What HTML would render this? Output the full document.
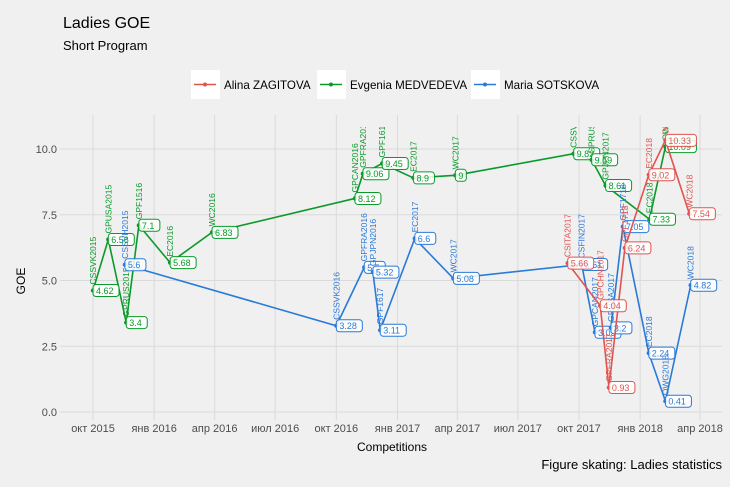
<!DOCTYPE html>
<html><head><meta charset="utf-8"><style>
body{margin:0;background:#f0f0f0;}
svg{display:block;font-family:"Liberation Sans",sans-serif;}
</style></head><body>
<svg id="chart" width="730" height="487" viewBox="0 0 730 487">
<defs><clipPath id="panelclip"><rect x="60" y="127" width="662" height="300"/></clipPath></defs>
<rect width="730" height="487" fill="#f0f0f0"/>
<text x="63" y="28" font-size="16" fill="#000">Ladies GOE</text>
<text x="63" y="50" font-size="13" fill="#000">Short Program</text>
<g>
 <g>
  <rect x="191" y="70" width="29" height="29" fill="#fff"/>
  <line x1="194" y1="84.5" x2="216" y2="84.5" stroke="#e0544f" stroke-width="1.5"/><circle cx="205" cy="84.5" r="2" fill="#e0544f"/>
  <text x="224" y="89" font-size="11.6">Alina ZAGITOVA</text>
 </g>
 <g>
  <rect x="317" y="70" width="29" height="29" fill="#fff"/>
  <line x1="320" y1="84.5" x2="342" y2="84.5" stroke="#0a9a2a" stroke-width="1.5"/><circle cx="331" cy="84.5" r="2" fill="#0a9a2a"/>
  <text x="350" y="89" font-size="11.6">Evgenia MEDVEDEVA</text>
 </g>
 <g>
  <rect x="471" y="70" width="29" height="29" fill="#fff"/>
  <line x1="474" y1="84.5" x2="496" y2="84.5" stroke="#2a7ad8" stroke-width="1.5"/><circle cx="485" cy="84.5" r="2" fill="#2a7ad8"/>
  <text x="504" y="89" font-size="11.6">Maria SOTSKOVA</text>
 </g>
</g>
<g id="grid"></g>
<g id="axes"></g>
<g id="series" clip-path="url(#panelclip)"></g>
<text x="25" y="281" font-size="12" transform="rotate(-90 25 281)" text-anchor="middle">GOE</text>
<text x="392" y="451" font-size="12" text-anchor="middle">Competitions</text>
<text x="722" y="469" font-size="13" text-anchor="end">Figure skating: Ladies statistics</text>
</svg>
<script>
const yTicks = [0, 2.5, 5, 7.5, 10];
const xTickDates = ["2015-10-01","2016-01-01","2016-04-01","2016-07-01","2016-10-01","2017-01-01","2017-04-01","2017-07-01","2017-10-01","2018-01-01","2018-04-01"];
const xTickLabels = ["окт 2015","янв 2016","апр 2016","июл 2016","окт 2016","янв 2017","апр 2017","июл 2017","окт 2017","янв 2018","апр 2018"];

const zagitovaComps = ["CSITA2017","GPCHN2017","GPFRA2017","GPF1718","EC2018","OWG2018","WC2018"];
const zagitovaDates = ["2017-09-14","2017-11-02","2017-11-15","2017-12-09","2018-01-14","2018-02-08","2018-03-16"];
const zagitovaGOE = [5.66,4.04,0.93,6.24,9.02,10.33,7.54];

const medvedevaComps = ["CSSVK2015","GPUSA2015","GPRUS2015","GPF1516","EC2016","WC2016","GPCAN2016","GPFRA2016","GPF1617","EC2017","WC2017","CSSVK2017","GPRUS2017","GPJPN2017","EC2018","OWG2018"];
const medvedevaDates = ["2015-10-01","2015-10-24","2015-11-20","2015-12-09","2016-01-25","2016-03-28","2016-10-29","2016-11-10","2016-12-09","2017-01-25","2017-03-29","2017-09-23","2017-10-20","2017-11-10","2018-01-15","2018-02-08"];
const medvedevaGOE = [4.62,6.56,3.4,7.1,5.68,6.83,8.12,9.06,9.45,8.9,9,9.82,9.59,8.61,7.33,10.09];

const sotskovaComps = ["CSSVH2015","CSSVK2016","GPFRA2016","GPJPN2016","GPF1617","EC2017","WC2017","CSFIN2017","GPCAN2017","GPUSA2017","GPF1718","EC2018","OWG2018","WC2018"];
const sotskovaDates = ["2015-11-18","2016-10-01","2016-11-12","2016-11-25","2016-12-06","2017-01-27","2017-03-26","2017-10-05","2017-10-25","2017-11-18","2017-12-06","2018-01-14","2018-02-08","2018-03-18"];
const sotskovaGOE = [5.6,3.28,5.5,5.32,3.11,6.6,5.08,5.61,3.03,3.2,7.05,2.24,0.41,4.82];

const NS="http://www.w3.org/2000/svg";
const D0=Date.parse("2015-10-01"), D1=Date.parse("2018-04-01");
function xScale(d){return 93+(Date.parse(d)-D0)/(D1-D0)*607;}
function yScale(v){return 412-v*26.3;}
function mk(tag,attrs,parent){const e=document.createElementNS(NS,tag);for(const k in attrs)e.setAttribute(k,attrs[k]);parent.appendChild(e);return e;}
const grid=document.getElementById('grid'), axes=document.getElementById('axes'), ser=document.getElementById('series');
yTicks.forEach(v=>{
  const l=mk('line',{x1:60,x2:722,y1:yScale(v),y2:yScale(v),stroke:'#dadada','stroke-width':1},grid);
  
  
  const t=mk('text',{x:57,y:yScale(v)+4,'font-size':11,fill:'#4d4d4d','text-anchor':'end'},axes);
  t.textContent=v.toFixed(1);
  
  
});
xTickDates.forEach((d,i)=>{
  const x=xScale(d);
  const l=mk('line',{x1:x,x2:x,y1:115,y2:420,stroke:'#dadada','stroke-width':1},grid);
  
  
  const t=mk('text',{x:x,y:432,'font-size':11,fill:'#4d4d4d','text-anchor':'middle'},axes);
  t.textContent=xTickLabels[i];
  
  
});
function drawSeries(name,comps,dates,vals,color){
  const g=mk('g',{},ser);
  
  
  const pts=dates.map((d,i)=>xScale(d)+','+yScale(vals[i])).join(' ');
  const pl=mk('polyline',{points:pts,fill:'none',stroke:color,'stroke-width':1.6},g);
  
  
  dates.forEach((d,i)=>{
    const x=xScale(d),y=yScale(vals[i]);
    const c=mk('circle',{cx:x,cy:y,r:2.2,fill:color},g);
    
    
    const lab=mk('text',{x:x+3,y:y-6,'font-size':8.5,fill:color,transform:'rotate(-90 '+(x+3)+' '+(y-6)+')'},g);
    lab.textContent=comps[i];
    
    
    const txt=String(vals[i]);
    const w=txt.length*5+6;
    const r=mk('rect',{x:x,y:y-6,width:w,height:12,rx:3,fill:'#ffffff','fill-opacity':0.85,stroke:color,'stroke-width':1},g);
    
    
    const vt=mk('text',{x:x+3,y:y+3.5,'font-size':9,fill:color},g);
    vt.textContent=txt;
    
    
  });
}
drawSeries('medvedeva',medvedevaComps,medvedevaDates,medvedevaGOE,'#0a9a2a');
drawSeries('sotskova',sotskovaComps,sotskovaDates,sotskovaGOE,'#2a7ad8');
drawSeries('zagitova',zagitovaComps,zagitovaDates,zagitovaGOE,'#e0544f');
</script>
</body></html>
